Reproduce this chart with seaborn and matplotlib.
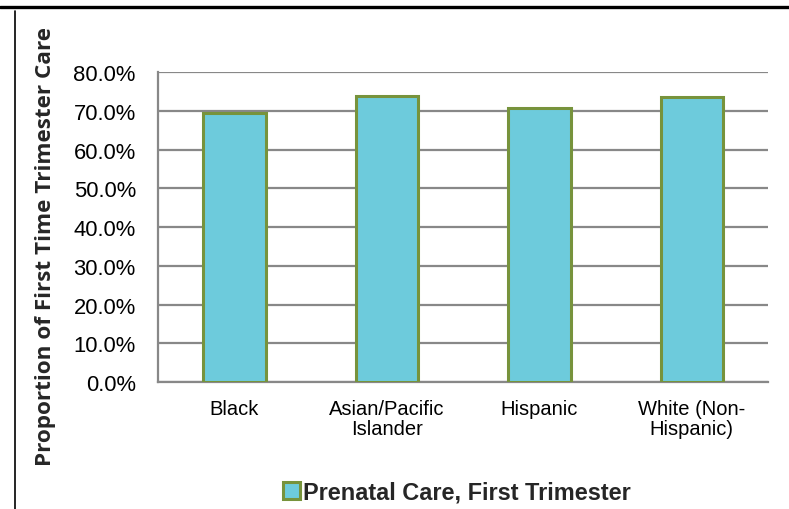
import matplotlib
matplotlib.use("Agg")
import matplotlib.pyplot as plt
from matplotlib.lines import Line2D
from matplotlib.patches import Patch
from matplotlib.ticker import FuncFormatter, MultipleLocator
import seaborn as sns
import pandas as pd

# Share of births with prenatal care starting in the first trimester, by group
groups = ["Black", "Asian/Pacific\nIslander", "Hispanic", "White (Non-\nHispanic)"]
first_trimester_pct = [69.5, 73.8, 70.7, 73.7]
series_name = "Prenatal Care, First Trimester"
y_title = "Proportion of First Time Trimester Care"

df = pd.DataFrame({"group": groups, "pct": first_trimester_pct})

sns.set_theme(style="white")
plt.rcParams["font.family"] = ["Liberation Sans", "DejaVu Sans"]

fill = "#6DCBDC"
edge = "#77933C"
grid = "#888888"

fig = plt.figure(figsize=(7.89, 5.10), dpi=100)
ax = fig.add_axes([0.2003, 0.249, 0.7731, 0.6073])

sns.barplot(data=df, x="group", y="pct", ax=ax, color=fill, saturation=1,
            width=0.41, edgecolor=edge, linewidth=2.2, zorder=3)

ax.set_ylim(0, 80)
ax.set_xlim(-0.5, len(groups) - 0.5)
ax.yaxis.set_major_locator(MultipleLocator(10))
ax.yaxis.set_major_formatter(FuncFormatter(lambda v, _: f"{v:.1f}%"))
ax.grid(axis="y", color=grid, linewidth=1.6, zorder=0)
ax.set_axisbelow(True)

for side in ("top", "right"):
    ax.spines[side].set_visible(False)
for side in ("left", "bottom"):
    ax.spines[side].set_color(grid)
    ax.spines[side].set_linewidth(1.6)

ax.tick_params(axis="y", labelsize=15.8, length=0, pad=16, colors="black")
ax.tick_params(axis="x", labelsize=14.5, length=0, pad=12, colors="black")
for t in ax.get_xticklabels():
    t.set_linespacing(1.12)
    t.set_verticalalignment("top")

ax.set_xlabel("")
ax.set_ylabel(y_title, fontsize=16.2, fontweight="bold",
              family=["Open Sans", "DejaVu Sans"])
ax.yaxis.set_label_coords(-0.168, 0.44)

handle = Patch(facecolor=fill, edgecolor=edge, linewidth=2.2)
ax.legend(handles=[handle], labels=[series_name], loc="center",
          bbox_to_anchor=(0.49, -0.355), frameon=False, handlelength=0.72,
          handleheight=0.72, handletextpad=0.1,
          prop={"size": 16.9, "weight": "bold"})

# Frame rules at the top and left edges of the page
fig.add_artist(Line2D([0, 1], [0.9843, 0.9843], transform=fig.transFigure,
                      color="black", linewidth=2.4))
fig.add_artist(Line2D([0.0184, 0.0184], [0, 0.976], transform=fig.transFigure,
                      color="black", linewidth=1.2))

fig.savefig("out.png", dpi=100, facecolor="white")
